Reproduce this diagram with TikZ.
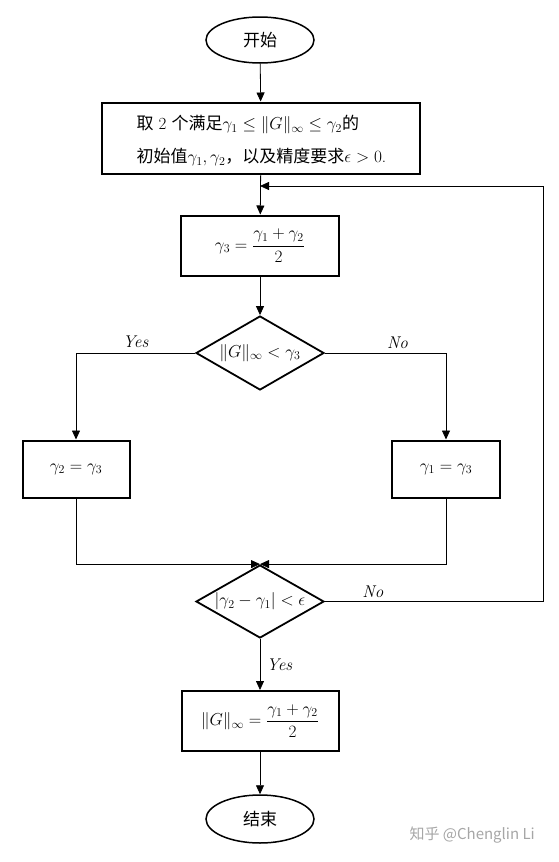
\documentclass[tikz,border=0pt]{standalone}
\usepackage{fontspec}
\usepackage{amsmath}
\newfontfamily\cjk{Noto Sans CJK SC}
\usetikzlibrary{shapes.geometric,arrows.meta}

\begin{document}
\begin{tikzpicture}[x=1pt,y=-1pt,font=\fontsize{17}{20}\selectfont,
	procbox/.style={draw,line width=2pt,inner sep=0pt},
	decision/.style={draw,diamond,line width=1.8pt,inner sep=0pt,minimum width=128pt,minimum height=74pt},
	term/.style={draw,ellipse,line width=1.5pt,inner sep=0pt,minimum width=108pt,minimum height=46pt},
	flow/.style={line width=0.8pt,-{Triangle[length=9pt,width=8pt]}},
	answer/.style={font=\fontsize{17}{20}\itshape}]
	\useasboundingbox (0,0) rectangle (559,862);
	\node[term] (start) at (260,40) {\cjk 开始};
	\node[procbox,minimum width=318pt,minimum height=71pt] (init) at (261,138) {};
	\node[align=left,anchor=west,font=\fontsize{17}{33}\selectfont] (inittext) at (133,141)
		{{\cjk 取} 2 {\cjk 个满足}$\gamma_1\le\|G\|_\infty\le\gamma_2${\cjk 的}\\{\cjk 初始值}$\gamma_1,\gamma_2${\cjk ，以及精度要求}$\epsilon>0$.};
	\node[procbox,minimum width=158pt,minimum height=60pt] (mean) at (260,245.5) {$\gamma_3=\dfrac{\gamma_1+\gamma_2}{2}$};
	\node[decision] (test) at (260,353) {\makebox[0pt]{$\|G\|_\infty<\gamma_3$}};
	\node[procbox,minimum width=107pt,minimum height=57pt] (setupper) at (76,469) {$\gamma_2=\gamma_3$};
	\node[procbox,minimum width=108pt,minimum height=57pt] (setlower) at (446,469) {$\gamma_1=\gamma_3$};
	\node[decision,minimum height=73pt] (stop) at (260,601.5) {\makebox[0pt]{$|\gamma_2-\gamma_1|<\epsilon$}};
	\node[procbox,minimum width=157pt,minimum height=60pt] (result) at (260,721) {$\|G\|_\infty=\dfrac{\gamma_1+\gamma_2}{2}$};
	\node[term,minimum height=48pt] (finish) at (260,819) {\cjk 结束};
	\coordinate (back) at (260,186);
	\coordinate (corner) at (543,601.5);
	\draw[flow] (start) -- (init);
	\draw[flow] (init) -- (mean);
	\draw[flow] (mean) -- (test);
	\draw[flow] (test.west) -| node[pos=0.25,above=2pt,answer] {Yes} (setupper.north);
	\draw[flow] (test.east) -| node[pos=0.3,above=1pt,answer] {No} (setlower.north);
	\draw[flow] (setupper.south) |- (stop.north);
	\draw[flow] (setlower.south) |- (stop.north);
	\draw[flow] (stop.south) -- node[right=3pt,answer] {Yes} (result.north);
	\draw[flow] (stop.east) -- node[pos=0.22,above,answer] {No} (corner) |- (back);
	\draw[flow] (result) -- (finish);
	\node[anchor=west,text=black!35,font=\cjk\fontsize{15}{18}\selectfont] (mark) at (406,835) {知乎 @Chenglin Li};
\end{tikzpicture}
\end{document}
